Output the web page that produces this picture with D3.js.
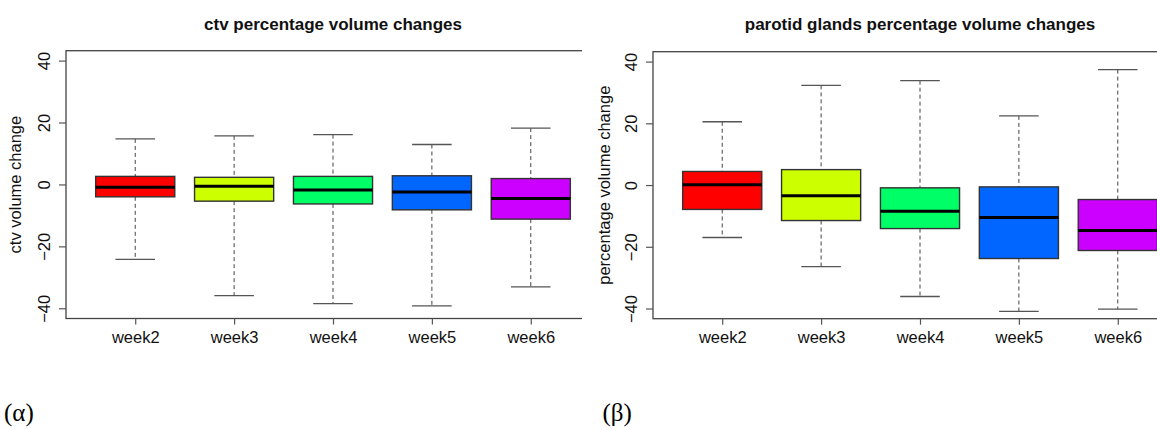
<!DOCTYPE html>
<html>
<head>
<meta charset="utf-8">
<script src="https://cdn.jsdelivr.net/npm/d3@7"></script>
<style>
  body { margin: 0; background: #fff; }
  text { font-family: "Liberation Sans", Arial, sans-serif; }
</style>
</head>
<body>
<svg id="chart" width="1157" height="430"></svg>
<script>
// categories
const weeks = ['week2', 'week3', 'week4', 'week5', 'week6'];
const yTicks = [-40, -20, 0, 20, 40];

// ctv box statistics (whisker low, Q1, median, Q3, whisker high)
const ctvLow = [-24.2, -35.9, -38.5, -39.2, -33.1];
const ctvQ1 = [-4.0, -5.4, -6.3, -8.2, -11.2];
const ctvMedian = [-0.9, -0.6, -1.8, -2.4, -4.5];
const ctvQ3 = [2.6, 2.3, 2.6, 2.8, 1.9];
const ctvHigh = [14.7, 15.7, 16.1, 12.9, 18.2];

// parotid glands box statistics
const parLow = [-17.0, -26.4, -36.1, -40.9, -40.2];
const parQ1 = [-7.9, -11.5, -14.1, -23.8, -21.2];
const parMedian = [0.1, -3.5, -8.5, -10.5, -14.7];
const parQ3 = [4.4, 5.0, -0.9, -0.6, -4.7];
const parHigh = [20.5, 32.3, 33.8, 22.4, 37.4];

// rainbow(5)
const boxColors = ['#FF0000', '#CCFF00', '#00FF66', '#0066FF', '#CC00FF'];

const svg = d3.select('#chart');

function drawPanel(opts) {
    const g = svg.append('g').attr('clip-path', `url(#${opts.id})`);
    svg.append('clipPath').attr('id', opts.id)
       .append('rect')
       .attr('x', opts.clip[0]).attr('y', 0)
       .attr('width', opts.clip[1] - opts.clip[0]).attr('height', 430);

    // R style: xlim 0.5..5.5 extended by 4%
    const x = d3.scaleLinear().domain([0.3, 5.7]).range([opts.left, opts.right]);
    const y = d3.scaleLinear().domain([-43.3, 43.2]).range([opts.bottom, opts.top]);
    const step = x(2) - x(1);
    const boxW = step * 0.8;
    const capW = boxW * 0.5;

    const stats = weeks.map(function (w, i) {
        return {
            name: w, pos: i + 1, color: boxColors[i],
            low: opts.low[i], q1: opts.q1[i], med: opts.med[i], q3: opts.q3[i], high: opts.high[i]
        };
    });

    // title
    g.append('text')
     .attr('x', (opts.left + opts.right) / 2)
     .attr('y', 29.5)
     .attr('text-anchor', 'middle')
     .attr('font-weight', 'bold')
     .attr('font-size', 17)
     .attr('fill', '#111')
     .text(opts.title);

    const box = g.selectAll('g.box')
                 .data(stats)
                 .enter()
                 .append('g')
                 .attr('class', 'box');

    // dashed whiskers
    box.append('line')
       .attr('x1', d => x(d.pos)).attr('x2', d => x(d.pos))
       .attr('y1', d => y(d.high)).attr('y2', d => y(d.q3))
       .attr('stroke', '#444').attr('stroke-dasharray', '4,3');
    box.append('line')
       .attr('x1', d => x(d.pos)).attr('x2', d => x(d.pos))
       .attr('y1', d => y(d.q1)).attr('y2', d => y(d.low))
       .attr('stroke', '#444').attr('stroke-dasharray', '4,3');

    // staples
    ['low', 'high'].forEach(function (k) {
        box.append('line')
           .attr('x1', d => x(d.pos) - capW / 2).attr('x2', d => x(d.pos) + capW / 2)
           .attr('y1', d => y(d[k])).attr('y2', d => y(d[k]))
           .attr('stroke', '#555').attr('stroke-width', 1.3);
    });

    // boxes
    box.append('rect')
       .attr('x', d => x(d.pos) - boxW / 2)
       .attr('width', boxW)
       .attr('y', d => y(d.q3))
       .attr('height', d => y(d.q1) - y(d.q3))
       .attr('fill', d => d.color)
       .attr('stroke', '#333')
       .attr('stroke-width', 1.4);

    // medians
    box.append('line')
       .attr('x1', d => x(d.pos) - boxW / 2).attr('x2', d => x(d.pos) + boxW / 2)
       .attr('y1', d => y(d.med)).attr('y2', d => y(d.med))
       .attr('stroke', '#000').attr('stroke-width', 3);

    // frame
    g.append('rect')
     .attr('x', opts.left).attr('y', opts.top)
     .attr('width', opts.right - opts.left).attr('height', opts.bottom - opts.top)
     .attr('fill', 'none').attr('stroke', '#444').attr('stroke-width', 1.3);

    // y axis with labels parallel to the axis
    const yAxis = g.append('g')
                   .attr('transform', `translate(${opts.left},0)`)
                   .call(d3.axisLeft(y).tickValues(yTicks).tickSize(7).tickSizeOuter(0));
    yAxis.select('.domain').remove();
    yAxis.selectAll('line').attr('stroke', '#555').attr('stroke-width', 1.2);
    yAxis.selectAll('text')
         .attr('x', null).attr('dy', null)
         .attr('text-anchor', 'middle')
         .attr('transform', 'translate(-16.5,0) rotate(-90)')
         .attr('font-size', 16.5)
         .attr('fill', '#111');

    // x axis
    const xAxis = g.append('g')
                   .attr('transform', `translate(0,${opts.bottom})`)
                   .call(d3.axisBottom(x).tickValues(stats.map(d => d.pos))
                           .tickFormat((d, i) => weeks[i]).tickSize(6).tickSizeOuter(0));
    xAxis.select('.domain').remove();
    xAxis.selectAll('line').attr('stroke', '#555').attr('stroke-width', 1.2);
    xAxis.selectAll('text')
         .attr('y', 24.5).attr('dy', null)
         .attr('font-size', 16.5)
         .attr('fill', '#111');

    // y axis title
    g.append('text')
     .attr('transform', `translate(${opts.left - opts.titleOffset},${(opts.top + opts.bottom) / 2}) rotate(-90)`)
     .attr('text-anchor', 'middle')
     .attr('font-size', 16.5)
     .attr('fill', '#111')
     .text(opts.yLabel);

    // panel letter (serif, set as style so the css rule does not win)
    svg.append('text')
       .attr('x', opts.letterX)
       .attr('y', 421)
       .style('font-family', '"Liberation Serif", "Times New Roman", serif')
       .attr('font-size', 25)
       .attr('fill', '#000')
       .text(opts.letter);
}

drawPanel({
    id: 'clipA', clip: [0, 582],
    left: 66, right: 600, top: 50.7, bottom: 318.5,
    low: ctvLow, q1: ctvQ1, med: ctvMedian, q3: ctvQ3, high: ctvHigh,
    title: 'ctv percentage volume changes',
    yLabel: 'ctv volume change', titleOffset: 45,
    letter: '(α)', letterX: 4
});

drawPanel({
    id: 'clipB', clip: [582, 1157],
    left: 653, right: 1187, top: 51.7, bottom: 318.7,
    low: parLow, q1: parQ1, med: parMedian, q3: parQ3, high: parHigh,
    title: 'parotid glands percentage volume changes',
    yLabel: 'percentage volume change', titleOffset: 43.5,
    letter: '(β)', letterX: 602.5
});
</script>
</body>
</html>
